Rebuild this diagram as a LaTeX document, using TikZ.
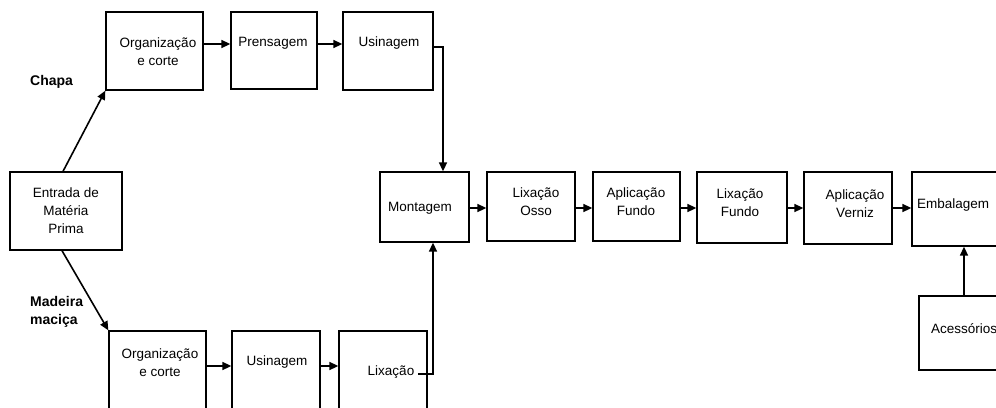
\documentclass[tikz,border=0pt]{standalone}
\usepackage{fontspec}
\setmainfont{Liberation Sans}
\usetikzlibrary{fit,arrows.meta,calc}
\tikzset{
  box/.style={draw, line width=1.3pt, inner sep=0pt, fit=#1},
  arr/.style={line width=1.6pt, -{Triangle[length=9pt,width=8pt]}},
  txt/.style={inner sep=0pt, align=center, font=\fontsize{13.5}{18}\selectfont},
  lbl/.style={inner sep=0pt, align=left, font=\fontsize{14}{18}\selectfont\bfseries, anchor=west}
}
\begin{document}
\begin{tikzpicture}[x=1pt,y=-1pt]
\useasboundingbox (0,0) rectangle (996,407);
\clip (0,0) rectangle (996,407);
% corner coordinates
\coordinate (a1) at (106,12);  \coordinate (b1) at (203,90);
\coordinate (a2) at (231,12);  \coordinate (b2) at (317,89);
\coordinate (a3) at (343,12);  \coordinate (b3) at (433,90);
\coordinate (a4) at (10,172);  \coordinate (b4) at (122,250);
\coordinate (a5) at (380,172); \coordinate (b5) at (469,242);
\coordinate (a6) at (487,172); \coordinate (b6) at (575,241);
\coordinate (a7) at (593,172); \coordinate (b7) at (680,241);
\coordinate (a8) at (697,172); \coordinate (b8) at (787,243);
\coordinate (a9) at (804,172); \coordinate (b9) at (892,244);
\coordinate (a10) at (912,172); \coordinate (b10) at (1010,246);
\coordinate (a11) at (919,296); \coordinate (b11) at (1010,370);
\coordinate (a12) at (109,331); \coordinate (b12) at (206,430);
\coordinate (a13) at (232,331); \coordinate (b13) at (320,430);
\coordinate (a14) at (339,331); \coordinate (b14) at (427,430);
% boxes
\node[box=(a1)(b1)] (oc1) {};
\node[box=(a2)(b2)] (pren) {};
\node[box=(a3)(b3)] (us1) {};
\node[box=(a4)(b4)] (ent) {};
\node[box=(a5)(b5)] (mont) {};
\node[box=(a6)(b6)] (lo) {};
\node[box=(a7)(b7)] (af) {};
\node[box=(a8)(b8)] (lf) {};
\node[box=(a9)(b9)] (av) {};
\node[box=(a10)(b10)] (emb) {};
\node[box=(a11)(b11)] (acc) {};
\node[box=(a12)(b12)] (oc2) {};
\node[box=(a13)(b13)] (us2) {};
\node[box=(a14)(b14)] (lix2) {};
% texts
\node[txt] (t1) at (158,52) {Organização\\e corte};
\node[txt] (t2) at (273,43) {Prensagem};
\node[txt] (t3) at (389,43) {Usinagem};
\node[txt] (t4) at (66,211) {Entrada de\\Matéria\\Prima};
\node[txt] (t5) at (420,208) {Montagem};
\node[txt] (t6) at (536,202) {Lixação\\Osso};
\node[txt] (t7) at (636,202) {Aplicação\\Fundo};
\node[txt] (t8) at (740,203) {Lixação\\Fundo};
\node[txt] (t9) at (855,204) {Aplicação\\Verniz};
\node[txt,anchor=west] (t10) at (917,205) {Embalagem};
\node[txt,anchor=west] (t11) at (931,329) {Acessórios};
\node[txt] (t12) at (160,363) {Organização\\e corte};
\node[txt] (t13) at (277,362) {Usinagem};
\node[txt] (t14) at (391,372) {Lixação};
\node[lbl] (l1) at (30,82) {Chapa};
\node[lbl] (l2) at (30,312) {Madeira\\maciça};
% helper coordinates
\coordinate (yt) at (0,44);
\coordinate (yu) at (0,47);
\coordinate (xm1) at (443,0);
\coordinate (xm2) at (433,0);
\coordinate (ym) at (0,208);
\coordinate (yb) at (0,366);
\coordinate (xe) at (964,0);
\coordinate (ls) at (418,374);
% connectors
\draw[arr] ($(ent.north)+(-3,0)$) -- (oc1.south west);
\draw[arr] ($(ent.south)+(-4,0)$) -- (oc2.north west);
\draw[arr] (oc1.east|-yt) -- (pren.west|-yt);
\draw[arr] (pren.east|-yt) -- (us1.west|-yt);
\draw[arr] (us1.east|-yu) -| (mont.north-|xm1);
\draw[arr] (ls) -| (mont.south-|xm2);
\draw[arr] (mont.east|-ym) -- (lo.west|-ym);
\draw[arr] (lo.east|-ym) -- (af.west|-ym);
\draw[arr] (af.east|-ym) -- (lf.west|-ym);
\draw[arr] (lf.east|-ym) -- (av.west|-ym);
\draw[arr] (av.east|-ym) -- (emb.west|-ym);
\draw[arr] (acc.north-|xe) -- (emb.south-|xe);
\draw[arr] (oc2.east|-yb) -- (us2.west|-yb);
\draw[arr] (us2.east|-yb) -- (lix2.west|-yb);
\end{tikzpicture}
\end{document}
